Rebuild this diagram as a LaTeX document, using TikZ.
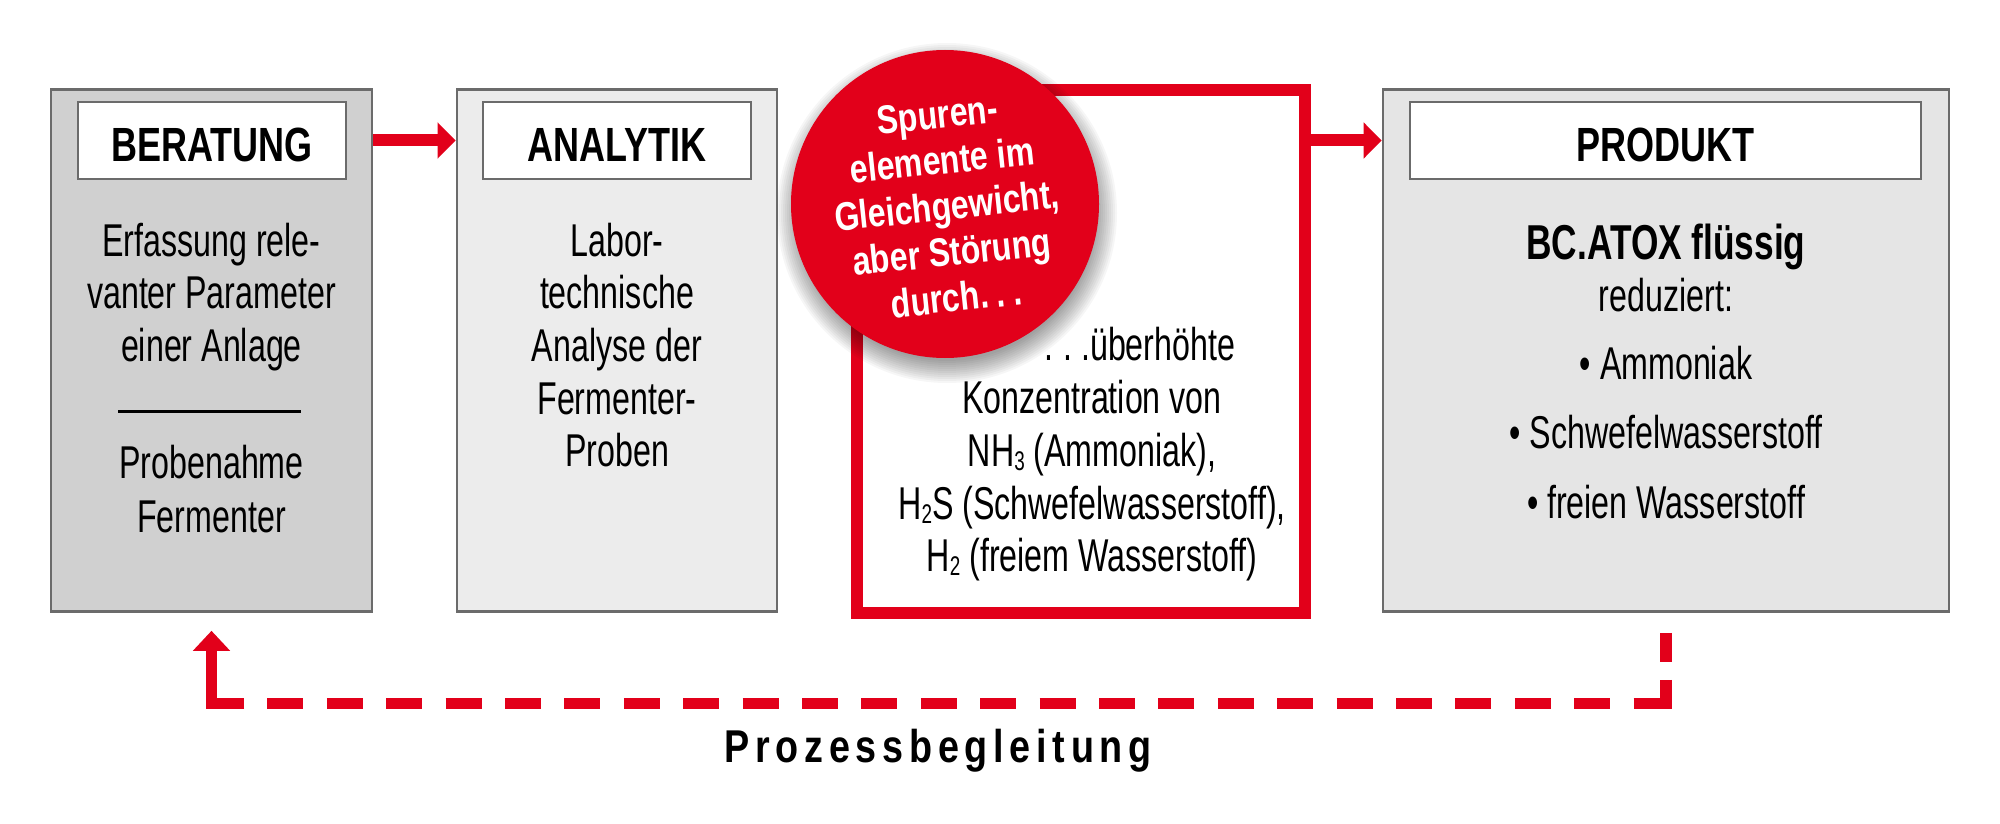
\documentclass[tikz,border=0pt]{standalone}
\usepackage{fontspec}
\setmainfont{Liberation Sans}
\newfontfamily\bodyf{Liberation Sans}[FakeStretch=0.7]
\newfontfamily\titlef{Liberation Sans}[FakeStretch=0.75]
\newfontfamily\prodf{Liberation Sans}[FakeStretch=0.72]
\newfontfamily\circf{Liberation Sans}[FakeStretch=0.8]
\newfontfamily\prozf{Liberation Sans}[FakeStretch=0.82,LetterSpace=12.5]
\usetikzlibrary{arrows.meta,calc}
\definecolor{brandred}{RGB}{226,0,26}
\definecolor{bordergray}{RGB}{107,107,107}
\definecolor{fillA}{RGB}{208,208,208}
\definecolor{fillB}{RGB}{236,236,236}
\definecolor{fillC}{RGB}{229,229,229}
\newcommand\dotsx{.\kern0.2em.\kern0.2em.}
\newcommand\chemsub[1]{\raisebox{-0.1em}{\fontsize{27}{27}\selectfont #1}}
\tikzset{
  panel/.style={draw=bordergray, line width=2.6pt, minimum height=522pt, inner sep=0pt},
  titlebox/.style={draw=bordergray, line width=2.6pt, fill=white, minimum height=77pt, inner sep=0pt},
  titletext/.style={font=\titlef\bfseries\fontsize{48}{48}\selectfont, anchor=base, inner sep=0pt},
  bodytext/.style={font=\bodyf\fontsize{46}{52}\selectfont, anchor=base, inner sep=0pt},
  flowarrow/.style={draw=brandred, line width=12pt, -{Triangle[length=18pt,width=35pt]}},
  fbline/.style={draw=brandred, line width=11.5pt},
}
\begin{document}
\begin{tikzpicture}[x=1pt,y=-1pt]
\path[use as bounding box, fill=white] (0,0) rectangle (2000,824);

% panels
\node[panel, fill=fillA, minimum width=321pt] (beratung) at (211.5,350.5) {};
\node[panel, fill=fillB, minimum width=320pt] (analytik) at (617,350.5) {};
\node[panel, fill=fillC, minimum width=566pt] (produkt) at (1666,350.5) {};
\node[draw=brandred, line width=11.5pt, fill=white, minimum width=448pt, minimum height=523pt, inner sep=0pt] (redbox) at (1081,351.5) {};

% title boxes
\node[titlebox, minimum width=268pt] (tBer) at (212,140.5) {};
\node[titlebox, minimum width=268pt] (tAna) at (617,140.5) {};
\node[titlebox, minimum width=511pt] (tPro) at (1665.5,140.5) {};
\node[titletext] (tBerT) at (212,161) {BERATUNG};
\node[titletext] (tAnaT) at (617,161) {ANALYTIK};
\node[titletext] (tProT) at (1665.5,161) {PRODUKT};

% BERATUNG text
\node[bodytext] (b1) at (211.5,256) {Erfassung rele-};
\node[bodytext] (b2) at (211.5,308) {vanter Parameter};
\node[bodytext] (b3) at (211.5,361) {einer Anlage};
\draw[black, line width=3pt] (118,411) -- (301,411);
\node[bodytext] (b4) at (211.5,478) {Probenahme};
\node[bodytext] (b5) at (211.5,532) {Fermenter};

% ANALYTIK text
\node[bodytext] (a1) at (617,256) {Labor-};
\node[bodytext] (a2) at (617,308) {technische};
\node[bodytext] (a3) at (617,361) {Analyse der};
\node[bodytext] (a4) at (617,414) {Fermenter-};
\node[bodytext] (a5) at (617,466) {Proben};

% red box text
\node[bodytext] (r1) at (1140,360) {\dotsx überhöhte};
\node[bodytext] (r2) at (1092,413) {Konzentration von};
\node[bodytext] (r3) at (1092,466) {NH\chemsub{3} (Ammoniak),};
\node[bodytext] (r4) at (1092,519) {H\chemsub{2}S (Schwefelwasserstoff),};
\node[bodytext] (r5) at (1092,571) {H\chemsub{2} (freiem Wasserstoff)};

% PRODUKT text
\node[anchor=base, inner sep=0pt, font=\prodf\bfseries\fontsize{49}{49}\selectfont] (p1) at (1666,259) {BC.ATOX flüssig};
\node[bodytext] (p2) at (1666,311) {reduziert:};
\node[bodytext] (p3) at (1666,379) {• Ammoniak};
\node[bodytext] (p4) at (1666,448) {• Schwefelwasserstoff};
\node[bodytext] (p5) at (1666,518) {• freien Wasserstoff};

% circle with soft shadow
\coordinate (cc) at (945,204);
\foreach \r in {0,2,...,22}
  \fill[black, opacity=0.035] ($(cc)+(2,9)$) circle[radius=148pt+\r pt];
\node[circle, fill=brandred, minimum size=308pt, inner sep=0pt] (circ) at (cc) {};
\node[text=white, align=center, rotate=6, inner sep=0pt,
      font=\circf\bfseries\fontsize{40}{46}\selectfont] (circT) at ($(cc)+(2,2)$)
  {Spuren-\\elemente im\\Gleichgewicht,\\aber Störung\\durch\dotsx};

% flow arrows
\draw[flowarrow] (beratung.east |- tBer.center) -- (analytik.west |- tBer.center);
\draw[flowarrow] (redbox.east |- tPro.center) -- (produkt.west |- tPro.center);

% feedback connector
\coordinate (fbTop) at ($(produkt.south)+(0,20)$);
\coordinate (cR) at (fbTop |- {(0,703.5)});
\coordinate (dR) at (1634,703.5);
\coordinate (sL) at (244,703.5);
\coordinate (cL) at (beratung.south |- {(0,703.5)});
\coordinate (fbBot) at ($(beratung.south)+(0,18)$);
\draw[fbline, dash pattern=on 29pt off 18pt on 300pt] (fbTop) -- (cR) -- (dR);
\draw[fbline, dash pattern=on 36pt off 23.4pt, dash phase=36pt] (sL) -- (dR);
\draw[fbline, -{Triangle[length=20pt,width=36pt]}] (sL) -- (cL) -- (fbBot);

\node[anchor=base, inner sep=0pt, font=\prozf\bfseries\fontsize{46}{46}\selectfont] (proz) at (938,762) {Prozessbegleitung};
\end{tikzpicture}
\end{document}
